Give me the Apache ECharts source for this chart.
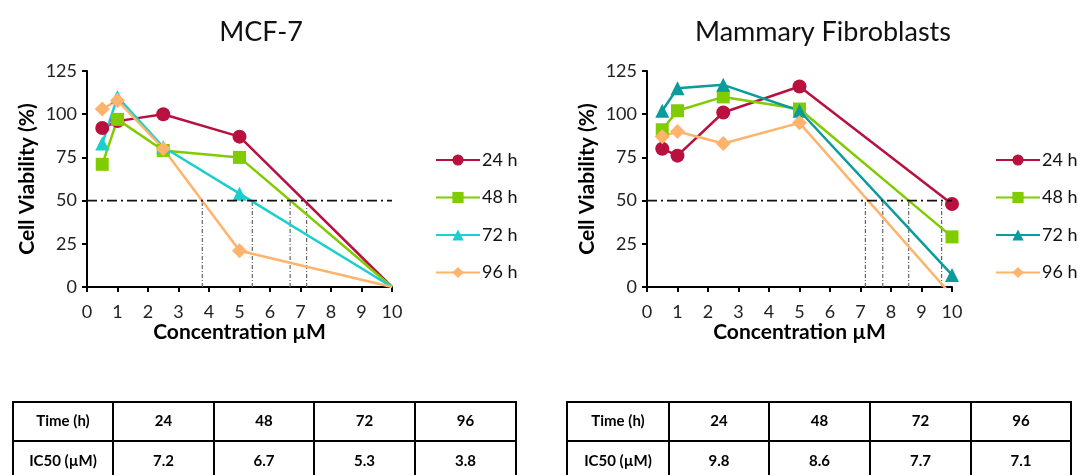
<!DOCTYPE html>
<html>
<head>
<meta charset="utf-8">
<script src="https://cdn.jsdelivr.net/npm/echarts@6/dist/echarts.min.js"></script>
<style>
html,body{margin:0;padding:0;background:#fff;}
#c{width:1078px;height:475px;}
</style>
</head>
<body>
<div id="c"></div>
<script>
// ---- data ----
const conc = [0.5, 1, 2.5, 5, 10];
const seriesNames = ['24 h', '48 h', '72 h', '96 h'];
const mcf7_24 = [92, 96, 100, 87, 0];
const mcf7_48 = [71, 97, 79, 75, 0];
const mcf7_72 = [83, 110, 81, 54, 0];
const mcf7_96 = [103, 108, 80, 21, 0];
const fib_24 = [80, 76, 101, 116, 48];
const fib_48 = [91, 102, 110, 103, 29];
const fib_72 = [102, 115, 117, 102, 7];
const fib_96 = [87, 90, 83, 95, -5];
const mcf7DropX = [7.2, 6.66, 5.42, 3.78];
const fibDropX = [9.66, 8.58, 7.73, 7.16];
const threshold = 50;
const xTicks = [0, 1, 2, 3, 4, 5, 6, 7, 8, 9, 10];
const yTicks = [0, 25, 50, 75, 100, 125];
const tableHeader = ['Time (h)', '24', '48', '72', '96'];
const mcf7Row = ['IC50 (µM)', '7.2', '6.7', '5.3', '3.8'];
const fibRow = ['IC50 (µM)', '9.8', '8.6', '7.7', '7.1'];

// ---- styles ----
const FONT = 'Lato, "Open Sans", sans-serif';
const symbols = ['circle', 'rect', 'triangle', 'diamond'];
const symSizes = [14, 13, 14, 15];
const colorsL = ['#B8103F', '#80CC00', '#1CCFCF', '#FFB36B'];
const colorsR = ['#B8103F', '#80CC00', '#0A9C9C', '#FFB36B'];

const chart = echarts.init(document.getElementById('c'));

function pairs(ys) { return conc.map((x, i) => [x, ys[i]]); }

function axisX(gi) {
  return {
    type: 'value', gridIndex: gi, min: xTicks[0], max: xTicks[xTicks.length - 1], interval: 1,
    name: 'Concentration µM', nameLocation: 'middle', nameGap: 33,
    nameTextStyle: { fontFamily: FONT, fontWeight: 'bold', fontSize: 21, color: '#000' },
    axisLine: { show: true, onZero: false, lineStyle: { color: '#000', width: 2 } },
    axisTick: { show: true, length: 5, lineStyle: { color: '#000', width: 2 } },
    axisLabel: { fontFamily: FONT, fontSize: 18, color: '#222', margin: 16 },
    splitLine: { show: false }
  };
}
function axisY(gi) {
  return {
    type: 'value', gridIndex: gi, min: yTicks[0], max: yTicks[yTicks.length - 1], interval: 25,
    name: 'Cell Viability (%)', nameLocation: 'middle', nameGap: 49,
    nameTextStyle: { fontFamily: FONT, fontWeight: 'bold', fontSize: 21, color: '#000' },
    axisLine: { show: true, lineStyle: { color: '#000', width: 2 } },
    axisTick: { show: true, length: 5, lineStyle: { color: '#000', width: 2 } },
    axisLabel: { fontFamily: FONT, fontSize: 18, color: '#222', margin: 10 },
    splitLine: { show: false }
  };
}

function dataSeries(gi, tag, arrs, colors) {
  return arrs.map((a, i) => ({
    name: seriesNames[i] + '|' + tag,
    type: 'line', xAxisIndex: gi, yAxisIndex: gi,
    data: pairs(a), clip: true, z: 5,
    symbol: symbols[i],
    symbolSize: v => (v[1] <= 0 ? 0 : symSizes[i]),
    showAllSymbol: true,
    lineStyle: { color: colors[i], width: 2.5 },
    itemStyle: { color: colors[i] },
    emphasis: { disabled: true }
  }));
}
function refSeries(gi, drops) {
  const out = [{
    type: 'line', xAxisIndex: gi, yAxisIndex: gi, silent: true, z: 6,
    data: [[xTicks[0], threshold], [xTicks[xTicks.length - 1], threshold]],
    symbol: 'none', lineStyle: { color: '#111', width: 1.8, type: [10, 4, 2, 4] }
  }];
  drops.forEach(x => out.push({
    type: 'line', xAxisIndex: gi, yAxisIndex: gi, silent: true, z: 2,
    data: [[x, 0], [x, threshold]],
    symbol: 'none', lineStyle: { color: '#666', width: 1.2, type: [4, 2, 1, 2] }
  }));
  return out;
}

function legendFor(tag, left) {
  return {
    orient: 'vertical', left: left, top: 151, padding: 0, itemWidth: 44, itemHeight: 14, itemGap: 19.5,
    data: seriesNames.map(n => n + '|' + tag),
    formatter: n => n.split('|')[0],
    textStyle: { fontFamily: FONT, fontSize: 18, color: '#111', padding: [0, 0, 0, -3] },
    selectedMode: false
  };
}

function table(colX, rowA, rowB) {
  const els = [];
  const ys = [402, 441, 480];
  [rowA, rowB].forEach((row, r) => {
    row.forEach((txt, c) => {
      els.push({
        type: 'rect', shape: { x: colX[c], y: ys[r], width: colX[c + 1] - colX[c], height: ys[r + 1] - ys[r] },
        style: { fill: 'none', stroke: '#000', lineWidth: 2 }
      });
      els.push({
        type: 'text', x: (colX[c] + colX[c + 1]) / 2, y: r === 0 ? 421 : 461,
        style: { text: txt, fontFamily: FONT, fontWeight: 'bold', fontSize: 15, fill: '#000', align: 'center', verticalAlign: 'middle' }
      });
    });
  });
  return els;
}

const option = {
  animation: false,
  backgroundColor: '#fff',
  title: [
    { text: 'MCF-7', left: 256, top: 14, textAlign: 'center', textStyle: { fontFamily: FONT, fontWeight: 'normal', fontSize: 27, color: '#111' } },
    { text: 'Mammary Fibroblasts', left: 818, top: 14, textAlign: 'center', textStyle: { fontFamily: FONT, fontWeight: 'normal', fontSize: 27, color: '#111' } }
  ],
  grid: [
    { left: 87, top: 71, width: 305, height: 216 },
    { left: 647, top: 71, width: 305, height: 216 }
  ],
  xAxis: [axisX(0), axisX(1)],
  yAxis: [axisY(0), axisY(1)],
  legend: [legendFor('L', 435), legendFor('R', 995)],
  series: [].concat(
    refSeries(0, mcf7DropX),
    refSeries(1, fibDropX),
    dataSeries(0, 'L', [mcf7_24, mcf7_48, mcf7_72, mcf7_96], colorsL),
    dataSeries(1, 'R', [fib_24, fib_48, fib_72, fib_96], colorsR)
  ),
  graphic: [].concat(
    table([13, 113, 214, 314, 415, 516], tableHeader, mcf7Row),
    table([567, 669, 769, 870, 971, 1071], tableHeader, fibRow)
  )
};
chart.setOption(option);
</script>
</body>
</html>
